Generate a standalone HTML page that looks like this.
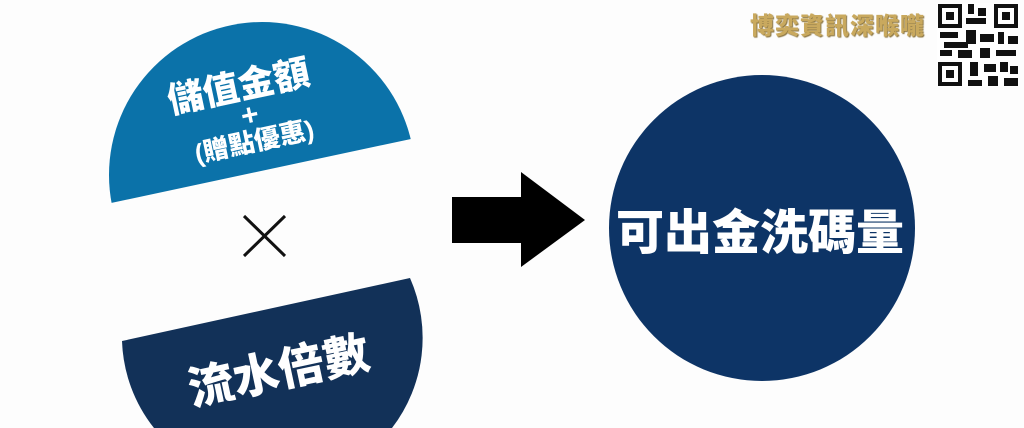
<!DOCTYPE html>
<html style="overflow:hidden;width:1024px;height:428px"><head><meta charset="utf-8"><style>
body{margin:0;width:1024px;height:428px;overflow:hidden;background:#fdfdfd;font-family:"Liberation Sans","Noto Sans CJK TC",sans-serif;position:relative}
.t{position:absolute;color:#fff;font-weight:900;white-space:nowrap;transform:translate(-50%,-50%) rotate(-12deg)}
</style></head><body>
<svg width="1024" height="428" style="position:absolute;left:0;top:0">
<defs>
<clipPath id="c1"><polygon points="0,0 1024,0 1024,74 0,138"/><polygon points="0,0 411,0 411,139 111,203 0,227"/></clipPath>
</defs>
<circle cx="262" cy="175" r="153" fill="#0b72a9" clip-path="url(#c1)"/>
<path d="M122,341 L410,278 A148,148 0 0,1 392,428 L154,428 A148,148 0 0,1 122,341 Z" fill="#123158"/>
<line x1="244" y1="216" x2="285" y2="256" stroke="#111" stroke-width="3"/>
<line x1="285" y1="216" x2="244" y2="256" stroke="#111" stroke-width="3"/>
<polygon points="452,197 521,197 521,172 585,220 521,267 521,243 452,243" fill="#000"/>
<circle cx="762" cy="228" r="153" fill="#0d3466"/>
<g fill="#111">
<rect x="937" y="3" width="83" height="84" fill="#fff"/>
<rect x="938" y="4" width="24" height="24"/><rect x="942" y="8" width="16" height="16" fill="#fff"/><rect x="946" y="12" width="8" height="8"/>
<rect x="994" y="4" width="24" height="24"/><rect x="998" y="8" width="16" height="16" fill="#fff"/><rect x="1002" y="12" width="8" height="8"/>
<rect x="938" y="62" width="24" height="24"/><rect x="942" y="66" width="16" height="16" fill="#fff"/><rect x="946" y="70" width="8" height="8"/>
<rect x="968" y="4" width="6" height="10"/><rect x="978" y="8" width="8" height="8"/><rect x="966" y="18" width="20" height="6"/>
<rect x="940" y="32" width="18" height="6"/><rect x="944" y="42" width="24" height="6"/><rect x="966" y="30" width="10" height="14"/>
<rect x="980" y="34" width="14" height="8"/><rect x="998" y="32" width="6" height="12"/><rect x="1008" y="36" width="10" height="8"/>
<rect x="940" y="50" width="12" height="6"/><rect x="958" y="50" width="14" height="8"/><rect x="980" y="48" width="10" height="10"/>
<rect x="996" y="50" width="20" height="6"/><rect x="970" y="62" width="8" height="14"/><rect x="984" y="64" width="12" height="8"/>
<rect x="1000" y="62" width="8" height="10"/><rect x="1010" y="66" width="8" height="8"/><rect x="968" y="80" width="14" height="6"/>
<rect x="988" y="76" width="10" height="10"/><rect x="1004" y="78" width="14" height="8"/>
</g>
</svg>
<div class="t" style="left:238px;top:84px;font-size:36px">儲值金額</div>
<div class="t" style="left:250px;top:116px;font-size:30px">+</div>
<div class="t" style="left:254px;top:140px;font-size:26px">(贈點優惠)</div>
<div class="t" style="left:278px;top:368px;font-size:46px">流水倍數</div>
<div style="position:absolute;left:760px;top:228px;transform:translate(-50%,-50%);color:#fff;font-weight:900;font-size:48px;white-space:nowrap">可出金洗碼量</div>
<div style="position:absolute;left:750px;top:6px;font-size:24px;font-weight:900;color:#c9a95e;white-space:nowrap;letter-spacing:1px;text-shadow:1px 1px 1px #8a7440">博奕資訊深喉嚨</div>
</body></html>
